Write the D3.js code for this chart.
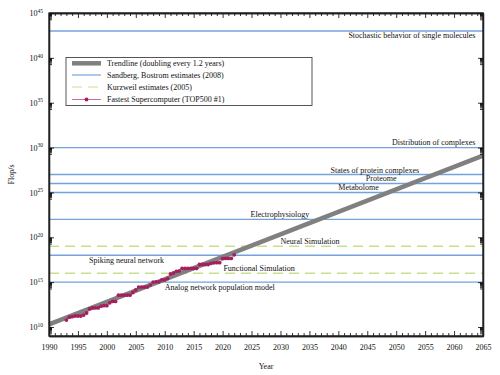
<!DOCTYPE html>
<html><head><meta charset="utf-8">
<script src="https://cdn.jsdelivr.net/npm/d3@7"></script>
<style>
body{margin:0;background:#fff}
svg text{font-family:"Liberation Serif","DejaVu Serif",serif;fill:#111}
</style></head>
<body><svg id="c" width="500" height="375"></svg>
<script>
// ---- data ----
const xTickYears = [1990,1995,2000,2005,2010,2015,2020,2025,2030,2035,2040,2045,2050,2055,2060,2065];
const yTickExps = [10,15,20,25,30,35,40,45];

const trendYears = [1990, 2065];
const trendFlops = [2.0e10, 1.3e29];

const sandbergNames = ["Stochastic behavior of single molecules","Distribution of complexes","States of protein complexes","Proteome","Metabolome","Electrophysiology","Spiking neural network","Analog network population model"];
const sandbergFlops = [1e43, 1e30, 1e27, 1e26, 1e25, 1e22, 1e18, 1e15];

const kurzweilNames = ["Neural Simulation","Functional Simulation"];
const kurzweilFlops = [1e19, 1e16];

const superYears = [1993,1993.5,1994,1994.5,1995,1995.5,1996,1996.5,1997,1997.5,1998,1998.5,1999,1999.5,2000,2000.5,2001,2001.5,2002,2002.5,2003,2003.5,2004,2004.5,2005,2005.5,2006,2006.5,2007,2007.5,2008,2008.5,2009,2009.5,2010,2010.5,2011,2011.5,2012,2012.5,2013,2013.5,2014,2014.5,2015,2015.5,2016,2016.5,2017,2017.5,2018,2018.5,2019,2019.5,2020,2020.5,2021,2021.5,2022];
const superFlops = [5.97e10,1.242e11,1.434e11,1.704e11,1.704e11,1.704e11,2.204e11,3.682e11,1.068e12,1.338e12,1.338e12,1.338e12,2.121e12,2.379e12,2.379e12,4.938e12,7.226e12,7.226e12,3.586e13,3.586e13,3.586e13,3.586e13,3.586e13,7.072e13,1.368e14,2.806e14,2.806e14,2.806e14,2.806e14,4.782e14,1.026e15,1.105e15,1.105e15,1.759e15,1.759e15,2.566e15,8.162e15,1.051e16,1.632e16,1.759e16,3.386e16,3.386e16,3.386e16,3.386e16,3.386e16,3.386e16,9.301e16,9.301e16,9.301e16,9.301e16,1.223e17,1.435e17,1.486e17,1.486e17,4.155e17,4.420e17,4.420e17,4.420e17,1.102e18];

const legendLabels = ["Trendline (doubling every 1.2 years)","Sandberg, Bostrom estimates (2008)","Kurzweil estimates (2005)","Fastest Supercomputer (TOP500 #1)"];

// ---- layout ----
const L=49, R=483, T=13, B=336;
const svg = d3.select("#c");
const x = d3.scaleLinear().domain([1990,2065]).range([L,R]);
const y = d3.scaleLog().domain([1e9,1e45]).range([B,T]);

const BLUE="#74a3dc", GREEN="#c8e090", GRAY="#808080", PINK="#d2578c", DOT="#a3205c";

// label layout: [anchorYear, text-anchor, dy offset px]
const sandbergLabelPos = [[2063.7,"end",7],[2063.7,"end",-2.5],[2046.3,"middle",-2],[2047.4,"middle",-2],[2043.5,"middle",-2],[2029.9,"middle",-2],[2003.4,"middle",8],[2019.5,"middle",7.5]];
const kurzweilLabelPos = [[2035.1,"middle",-2],[2026.3,"middle",-2]];

const g = svg.append("g");

sandbergFlops.forEach((v,i)=>{
  g.append("line").attr("x1",x(1990)).attr("x2",x(2065)).attr("y1",y(v)).attr("y2",y(v))
   .attr("stroke",BLUE).attr("stroke-width",1.4);
});
kurzweilFlops.forEach((v,i)=>{
  g.append("line").attr("x1",x(1990)).attr("x2",x(2065)).attr("y1",y(v)).attr("y2",y(v))
   .attr("stroke",GREEN).attr("stroke-width",1.4).attr("stroke-dasharray","10,6");
});
const line = d3.line().x(d=>x(d[0])).y(d=>y(d[1]));
g.append("path").datum(trendYears.map((yr,i)=>[yr,trendFlops[i]]))
  .attr("d",line).attr("fill","none").attr("stroke",GRAY).attr("stroke-width",4.5);
const sdata = superYears.map((yr,i)=>[yr,superFlops[i]]);
g.append("path").datum(sdata).attr("d",line).attr("fill","none").attr("stroke",PINK).attr("stroke-width",0.9);
g.selectAll("circle.s").data(sdata).enter().append("circle")
  .attr("cx",d=>x(d[0])).attr("cy",d=>y(d[1])).attr("r",1.9).attr("fill",DOT);

sandbergNames.forEach((n,i)=>{
  const p=sandbergLabelPos[i];
  g.append("text").attr("x",x(p[0])).attr("y",y(sandbergFlops[i])+p[2]).attr("text-anchor",p[1])
   .attr("font-size","8px").text(n);
});
kurzweilNames.forEach((n,i)=>{
  const p=kurzweilLabelPos[i];
  g.append("text").attr("x",x(p[0])).attr("y",y(kurzweilFlops[i])+p[2]).attr("text-anchor",p[1])
   .attr("font-size","8px").text(n);
});

// Axes
const ax = svg.append("g");
const frameColor="#222";
const xb = ax.append("g").attr("transform",`translate(0,${B})`)
  .call(d3.axisBottom(x).tickValues(xTickYears).tickFormat(d3.format("d")).tickSizeInner(-5).tickSizeOuter(0).tickPadding(8));
ax.append("g").attr("transform",`translate(0,${T})`)
  .call(d3.axisTop(x).tickValues(xTickYears).tickFormat("").tickSizeInner(-5).tickSizeOuter(0));
const minorYears = d3.range(1990,2066).filter(v=>v%5!==0);
ax.append("g").attr("transform",`translate(0,${B})`)
  .call(d3.axisBottom(x).tickValues(minorYears).tickFormat("").tickSizeInner(-3).tickSizeOuter(0));
ax.append("g").attr("transform",`translate(0,${T})`)
  .call(d3.axisTop(x).tickValues(minorYears).tickFormat("").tickSizeInner(-3).tickSizeOuter(0));
const yMaj = yTickExps.map(e=>Math.pow(10,e));
const yMin = [];
yTickExps.forEach(e=>{ for(let m=2;m<=9;m++) yMin.push(m*Math.pow(10,e-1)); });
const yl = ax.append("g").attr("transform",`translate(${L},0)`)
  .call(d3.axisLeft(y).tickValues(yMaj).tickFormat("").tickSizeInner(-5).tickSizeOuter(0).tickPadding(6));
ax.append("g").attr("transform",`translate(${R},0)`)
  .call(d3.axisRight(y).tickValues(yMaj).tickFormat("").tickSizeInner(-5).tickSizeOuter(0));
ax.append("g").attr("transform",`translate(${L},0)`)
  .call(d3.axisLeft(y).tickValues(yMin).tickFormat("").tickSizeInner(-3).tickSizeOuter(0));
ax.append("g").attr("transform",`translate(${R},0)`)
  .call(d3.axisRight(y).tickValues(yMin).tickFormat("").tickSizeInner(-3).tickSizeOuter(0));
ax.selectAll(".domain").attr("stroke",frameColor).attr("stroke-width",1.3);
ax.selectAll(".tick line").attr("stroke","#000").attr("stroke-width",0.8);
xb.selectAll("text").attr("font-family","Liberation Serif").attr("font-size","8px").attr("fill","#111");
yl.selectAll(".tick").each(function(d){
  const t=d3.select(this).append("text").attr("x",-6).attr("dy","0.32em").attr("text-anchor","end")
    .attr("font-size","8px");
  t.append("tspan").text("10");
  t.append("tspan").attr("font-size","5.5px").attr("dy","-0.6em").text(Math.round(Math.log10(d)));
});
svg.append("rect").attr("x",L).attr("y",T).attr("width",R-L).attr("height",B-T)
  .attr("fill","none").attr("stroke",frameColor).attr("stroke-width",1.3);

svg.append("text").attr("x",(L+R)/2).attr("y",369).attr("text-anchor","middle").attr("font-size","8px").text("Year");
svg.append("text").attr("transform",`translate(14,${(T+B)/2}) rotate(-90)`).attr("text-anchor","middle").attr("font-size","8px").text("Flop/s");

// Legend
const lg = svg.append("g");
lg.append("rect").attr("x",66).attr("y",57.5).attr("width",246).attr("height",48)
  .attr("fill","#fff").attr("stroke","#444").attr("stroke-width",0.9);
const ly = [63.3,75,87,99.5];
legendLabels.forEach((t,i)=>{
  const yy=ly[i];
  const ln=lg.append("line").attr("x1",72).attr("x2",101).attr("y1",yy).attr("y2",yy);
  if(i===0) ln.attr("stroke",GRAY).attr("stroke-width",4.5);
  if(i===1) ln.attr("stroke",BLUE).attr("stroke-width",1.2);
  if(i===2) ln.attr("stroke",GREEN).attr("stroke-width",1.2).attr("stroke-dasharray","10,6");
  if(i===3){ ln.attr("stroke",PINK).attr("stroke-width",0.9);
    lg.append("circle").attr("cx",86.5).attr("cy",yy).attr("r",1.9).attr("fill",DOT); }
  lg.append("text").attr("x",107).attr("y",yy).attr("dy","0.33em").attr("font-size","8px").text(t);
});
</script></body></html>
